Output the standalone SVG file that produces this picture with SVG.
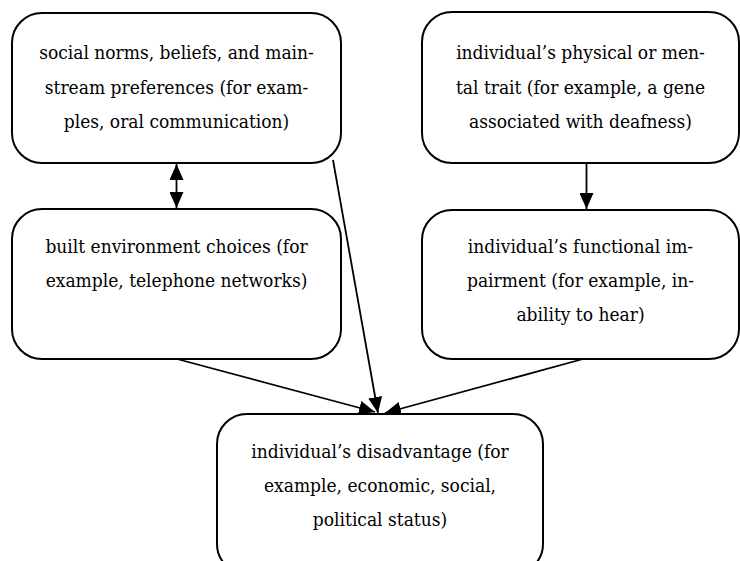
<svg xmlns="http://www.w3.org/2000/svg" width="740" height="561" viewBox="0 0 740 561">
<style>
.box{fill:#fff;stroke:#000;stroke-width:2}
.t{font-family:"DejaVu Serif Condensed","DejaVu Serif","Liberation Serif",serif;font-stretch:condensed;font-size:19px;fill:#000;text-anchor:middle}
.c{stroke:#000;stroke-width:1.8;fill:none}
</style>
<defs>
<marker id="ah" markerUnits="userSpaceOnUse" markerWidth="16" markerHeight="14" refX="16" refY="7" orient="auto-start-reverse">
<path d="M0,0 L16,7 L0,14 z" fill="#000"/>
</marker>
</defs>
<rect width="740" height="561" fill="#fff"/>
<g id="connectors">
<line class="c" x1="176.5" y1="164" x2="176.5" y2="208" marker-start="url(#ah)" marker-end="url(#ah)"/>
<line class="c" x1="586.5" y1="164" x2="586.5" y2="209" marker-end="url(#ah)"/>
<line class="c" x1="333" y1="160" x2="378" y2="413" marker-end="url(#ah)"/>
<line class="c" x1="177" y1="359" x2="375" y2="412" marker-end="url(#ah)"/>
<line class="c" x1="583" y1="359" x2="385" y2="413" marker-end="url(#ah)"/>
</g>
<g id="n1">
<rect class="box" x="12" y="13" width="329" height="150" rx="30"/>
<text class="t" x="176.5" y="59">social norms, beliefs, and main-</text>
<text class="t" x="176.5" y="94">stream preferences (for exam-</text>
<text class="t" x="176.5" y="128">ples, oral communication)</text>
</g>
<g id="n2">
<rect class="box" x="422" y="12" width="317" height="151" rx="30"/>
<text class="t" x="580.5" y="59">individual’s physical or men-</text>
<text class="t" x="580.5" y="94">tal trait (for example, a gene</text>
<text class="t" x="580.5" y="128">associated with deafness)</text>
</g>
<g id="n3">
<rect class="box" x="12" y="209" width="329" height="150" rx="30"/>
<text class="t" x="176.5" y="253">built environment choices (for</text>
<text class="t" x="176.5" y="287">example, telephone networks)</text>
</g>
<g id="n4">
<rect class="box" x="422" y="210" width="317" height="149" rx="30"/>
<text class="t" x="580.5" y="253">individual’s functional im-</text>
<text class="t" x="580.5" y="287">pairment (for example, in-</text>
<text class="t" x="580.5" y="321">ability to hear)</text>
</g>
<g id="n5">
<rect class="box" x="217" y="414" width="326" height="160" rx="30"/>
<text class="t" x="380" y="458">individual’s disadvantage (for</text>
<text class="t" x="380" y="492">example, economic, social,</text>
<text class="t" x="380" y="526">political status)</text>
</g>
</svg>
